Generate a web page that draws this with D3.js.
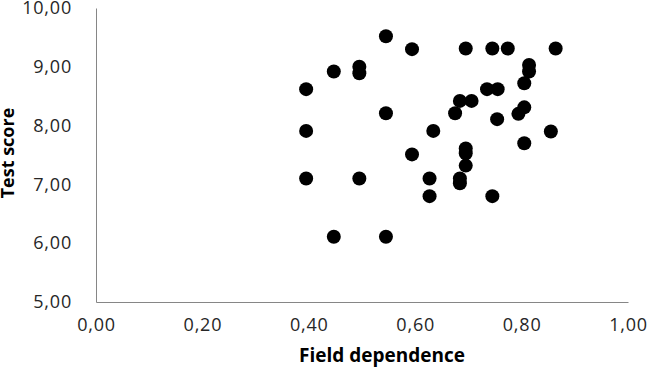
<!DOCTYPE html>
<html><head><meta charset="utf-8">
<script src="https://cdn.jsdelivr.net/npm/d3@7"></script>
<style>body{margin:0;background:#fff}svg{display:block}</style>
</head><body>
<script>
const fieldDependence = [0.395,0.395,0.395,0.447,0.447,0.495,0.495,0.495,0.545,0.545,0.545,0.594,0.594,0.627,0.627,0.634,0.675,0.684,0.684,0.684,0.695,0.695,0.695,0.695,0.706,0.735,0.745,0.745,0.755,0.754,0.774,0.794,0.805,0.805,0.805,0.814,0.814,0.855,0.864];
const testScore =       [8.62,7.91,7.10,8.92,6.11,9.00,8.89,7.10,9.52,8.21,6.11,9.30,7.51,7.10,6.80,7.91,8.21,8.42,7.10,7.02,9.31,7.61,7.53,7.32,8.42,8.62,9.31,6.80,8.62,8.11,9.31,8.20,8.72,8.31,7.70,9.03,8.92,7.90,9.31];
const xTicks = [0,0.2,0.4,0.6,0.8,1.0];
const yTicks = [5,6,7,8,9,10];
const xTitle = "Field dependence";
const yTitle = "Test score";

const W=649,H=372;
const svg=d3.select("body").append("svg").attr("width",W).attr("height",H);
const x=d3.scaleLinear().domain([0,1]).range([96,628]);
const y=d3.scaleLinear().domain([5,10]).range([302,8]);
const fmt=d=>d3.format(".2f")(d).replace(".",",");
const font="'Open Sans', sans-serif";

const xa=svg.append("g").attr("transform","translate(0,302)")
  .call(d3.axisBottom(x).tickValues(xTicks).tickSize(0).tickPadding(16).tickFormat(fmt));
const ya=svg.append("g").attr("transform","translate(96,0)")
  .call(d3.axisLeft(y).tickValues(yTicks).tickSize(0).tickPadding(24).tickFormat(fmt));
[xa,ya].forEach(a=>{
  a.select(".domain").attr("stroke","#868686").attr("stroke-width",1);
  a.selectAll("text").attr("font-family",font).attr("font-size",18).attr("fill","#262626").style("letter-spacing","0.8px");
});

svg.append("g").selectAll("circle").data(fieldDependence).join("circle")
  .attr("cx",d=>x(d)).attr("cy",(d,i)=>y(testScore[i])).attr("r",7).attr("fill","#000");

svg.append("text").attr("x",382).attr("y",362).attr("text-anchor","middle")
  .attr("font-family",font).attr("font-weight","bold").attr("font-size",19).attr("fill","#000").text(xTitle);
svg.append("text").attr("transform","translate(14,153) rotate(-90)").attr("text-anchor","middle")
  .attr("font-family",font).attr("font-weight","bold").attr("font-size",18).attr("fill","#000").text(yTitle);
</script>
</body></html>
